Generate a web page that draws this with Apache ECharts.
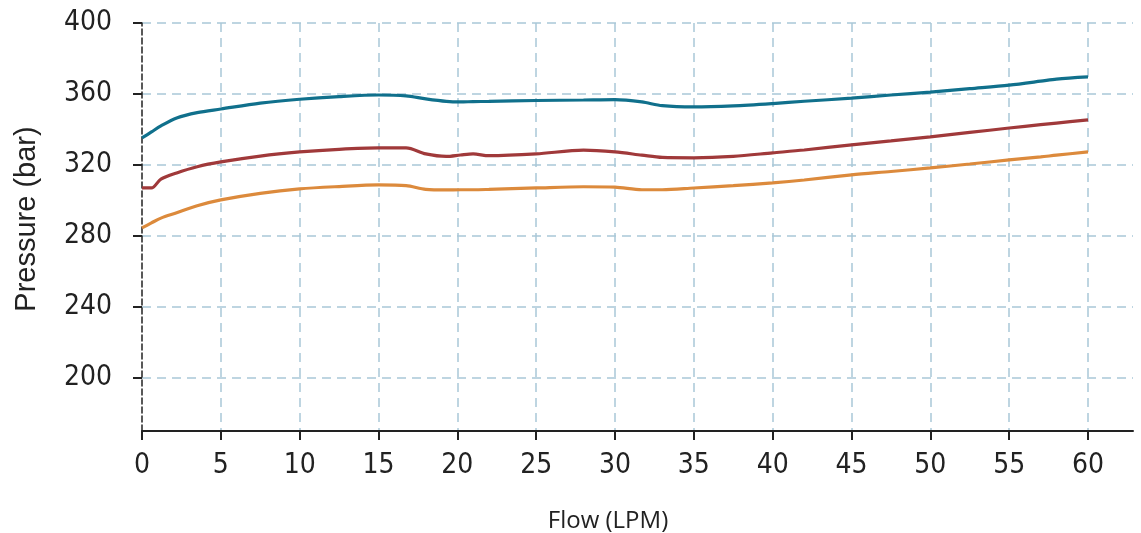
<!DOCTYPE html>
<html>
<head>
<meta charset="utf-8">
<script src="https://cdn.jsdelivr.net/npm/echarts@6/dist/echarts.min.js"></script>
<style>
  html, body { margin: 0; padding: 0; background: #fff; }
  #chart { width: 1141px; height: 533px; }
</style>
</head>
<body>
<div id="chart"></div>
<script>
var flow = [0, 0.6, 1.2, 2.2, 3.5, 5, 7.5, 10, 12.5, 15, 16.75, 18, 19.3, 20.2, 21, 22, 25, 28, 30, 31.7, 33, 35, 37.5, 40, 42, 45, 47.5, 50, 52.5, 55, 57, 58, 60];

var teal = [335.2, 338.6, 342, 346.5, 349.5, 351.5, 354.8, 357, 358.5, 359.4, 358.9, 357.2, 355.8, 355.5, 355.7, 355.8, 356.3, 356.6, 356.8, 355.5, 353.4, 352.7, 353.3, 354.6, 355.9, 357.6, 359.4, 361, 363, 365, 367.2, 368.4, 369.6];
var red = [307, 307, 312, 315.5, 319, 321.7, 325, 327.3, 328.8, 329.6, 329.6, 326.2, 324.8, 325.6, 326.2, 325.2, 326.2, 328.3, 327.3, 325.5, 324.2, 324, 324.8, 326.8, 328.4, 331.3, 333.5, 335.8, 338.3, 340.8, 342.7, 343.6, 345.4];
var orange = [284.5, 287.3, 290, 293, 297, 300.3, 304, 306.5, 307.8, 308.7, 308.3, 306.2, 305.9, 306, 306, 306.2, 307, 307.7, 307.5, 306, 306, 307, 308.3, 309.9, 311.5, 314.4, 316.3, 318.3, 320.5, 322.8, 324.5, 325.5, 327.3];

var xTicks = { min: 0, max: 60, step: 5 };
var yTicks = { min: 200, max: 400, step: 40 };

var dom = document.getElementById('chart');
var myChart = echarts.init(dom);

function pairs(ys) {
    return flow.map(function (x, i) { return [x, ys[i]]; });
}

var gridLine = { show: true, lineStyle: { color: '#a9c8d8', width: 1.5, type: [9, 6] } };
var tickFont = {
    fontFamily: "'Liberation Sans Narrow', 'DejaVu Sans Condensed', 'Liberation Sans', sans-serif",
    fontSize: 28,
    color: '#222'
};

function line(ys, color) {
    return {
        type: 'line',
        xAxisIndex: 1,
        yAxisIndex: 1,
        data: pairs(ys),
        showSymbol: false,
        smooth: 0.3,
        lineStyle: { color: color, width: 3.2 },
        itemStyle: { color: color },
        animation: false
    };
}

var option = {
    backgroundColor: '#fff',
    animation: false,
    title: {
        text: 'Flow (LPM)',
        left: 603,
        top: 504,
        textAlign: 'center',
        textStyle: { fontFamily: 'Open Sans', fontSize: 24, fontWeight: 'normal', color: '#222' }
    },
    graphic: [{
        type: 'text',
        x: 27,
        y: 219,
        rotation: Math.PI / 2,
        style: {
            text: 'Pressure (bar)',
            fontFamily: 'Liberation Sans',
            fontSize: 29,
            fill: '#222',
            textAlign: 'center',
            textVerticalAlign: 'middle'
        }
    }],
    grid: [
        // ticks / vertical grid lines (0-60)
        { left: 142, top: 23, width: 946, height: 408 },
        // ticks / horizontal grid lines (200-400)
        { left: 142, top: 23, width: 991, height: 355 },
        // frame: axis lines
        { left: 142, top: 23, width: 991, height: 408 }
    ],
    xAxis: [
        {
            gridIndex: 0, type: 'value', min: xTicks.min, max: xTicks.max, interval: xTicks.step,
            axisLine: { show: false },
            axisTick: { show: true, length: 9, lineStyle: { color: '#222', width: 2 } },
            axisLabel: Object.assign({ margin: 21 }, tickFont),
            splitLine: Object.assign({ showMinLine: false }, gridLine)
        },
        {
            gridIndex: 0, type: 'value', min: xTicks.min, max: xTicks.max, show: false
        },
        {
            gridIndex: 1, type: 'value', min: 0, max: 60, show: false
        },
        {
            gridIndex: 2, type: 'value', min: 0, max: 63,
            axisLine: { show: true, lineStyle: { color: '#222', width: 2 } },
            axisTick: { show: false },
            axisLabel: { show: false },
            splitLine: { show: false }
        }
    ],
    yAxis: [
        {
            gridIndex: 0, type: 'value', min: 170, max: 400, show: false
        },
        {
            gridIndex: 0, type: 'value', min: 170, max: 400, show: false
        },
        {
            gridIndex: 1, type: 'value', min: yTicks.min, max: yTicks.max, interval: yTicks.step,
            axisLine: { show: false },
            axisTick: { show: true, length: 9, lineStyle: { color: '#222', width: 2 } },
            axisLabel: Object.assign({ margin: 30 }, tickFont),
            splitLine: gridLine
        },
        {
            gridIndex: 2, type: 'value', min: 170, max: 400,
            axisLine: { show: true, lineStyle: { color: '#222', width: 1.5, type: [6, 3] } },
            axisTick: { show: false },
            axisLabel: { show: false },
            splitLine: { show: false }
        }
    ],
    series: [
        line(teal, '#10708c'),
        line(red, '#a0393a'),
        line(orange, '#dc8a3c')
    ]
};

myChart.setOption(option);
</script>
</body>
</html>
